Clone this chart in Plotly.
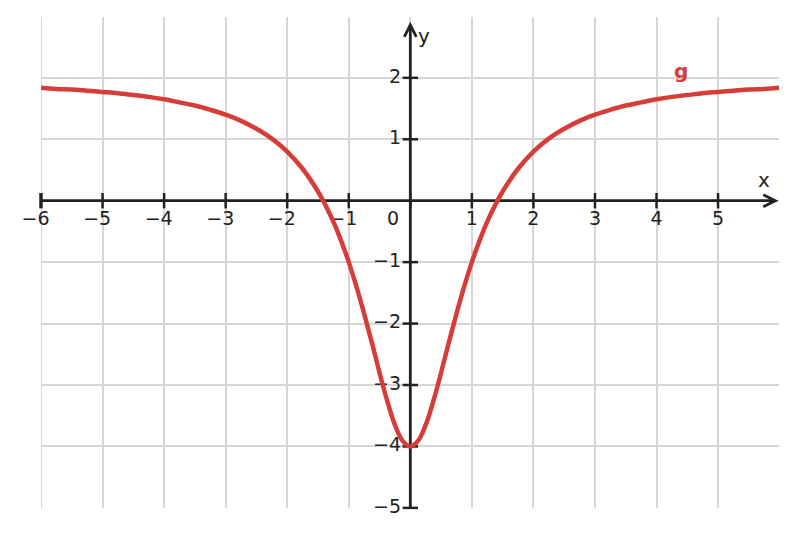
import plotly.graph_objects as go

# curve values
x_vals = [-6, -5.75, -5.5, -5.25, -5, -4.75, -4.5, -4.25, -4, -3.75, -3.5, -3.25, -3,
          -2.75, -2.5, -2.25, -2, -1.75, -1.5, -1.375, -1.25, -1.125, -1, -0.875, -0.75,
          -0.625, -0.5, -0.375, -0.25, -0.125, 0,
          0.125, 0.25, 0.375, 0.5, 0.625, 0.75, 0.875, 1, 1.125, 1.25, 1.375, 1.5, 1.75,
          2, 2.25, 2.5, 2.75, 3, 3.25, 3.5, 3.75, 4, 4.25, 4.5, 4.75, 5, 5.25, 5.5, 5.75, 6]
g_vals = [1.84, 1.82, 1.81, 1.79, 1.77, 1.75, 1.72, 1.69, 1.65, 1.60, 1.55, 1.48, 1.40,
          1.30, 1.17, 1.01, 0.80, 0.52, 0.15, -0.08, -0.34, -0.65, -1.00, -1.40, -1.84,
          -2.31, -2.80, -3.26, -3.65, -3.91, -4.00,
          -3.91, -3.65, -3.26, -2.80, -2.31, -1.84, -1.40, -1.00, -0.65, -0.34, -0.08, 0.15, 0.52,
          0.80, 1.01, 1.17, 1.30, 1.40, 1.48, 1.55, 1.60, 1.65, 1.69, 1.72, 1.75, 1.77, 1.79,
          1.81, 1.82, 1.84]

x_ticks = [-6, -5, -4, -3, -2, -1, 1, 2, 3, 4, 5]
x_tick_labels = ["−6", "−5", "−4", "−3", "−2", "−1", "1", "2", "3", "4", "5"]
y_ticks = [2, 1, -1, -2, -3, -4, -5]
y_tick_labels = ["2", "1", "−1", "−2", "−3", "−4", "−5"]

AX = "#222222"
TXT = "#222222"
RED = "#d63c38"
GRID = "#d6d6d6"
FONT = "DejaVu Sans"
TS = 19

neg = [(t, l) for t, l in zip(x_ticks, x_tick_labels) if t < 0]
pos = [(t, l) for t, l in zip(x_ticks, x_tick_labels) if t > 0]

fig = go.Figure()

# tick labels (drawn under the curve); the digit sits under the tick, the minus hangs left
fig.add_trace(go.Scatter(x=[t + 0.14 for t, _ in neg], y=[-0.32] * len(neg), mode="text",
                         text=[l for _, l in neg], textposition="middle left", cliponaxis=False,
                         textfont=dict(family=FONT, size=TS, color=TXT),
                         hoverinfo="skip", showlegend=False))
fig.add_trace(go.Scatter(x=[t for t, _ in pos], y=[-0.32] * len(pos), mode="text",
                         text=[l for _, l in pos], textposition="middle center", cliponaxis=False,
                         textfont=dict(family=FONT, size=TS, color=TXT),
                         hoverinfo="skip", showlegend=False))
fig.add_trace(go.Scatter(x=[-0.15] * len(y_ticks), y=y_ticks, mode="text",
                         text=y_tick_labels, textposition="middle left", cliponaxis=False,
                         textfont=dict(family=FONT, size=TS, color=TXT),
                         hoverinfo="skip", showlegend=False))
fig.add_trace(go.Scatter(x=[-0.28], y=[-0.32], mode="text", text=["0"],
                         textposition="middle center", cliponaxis=False,
                         textfont=dict(family=FONT, size=TS, color=TXT),
                         hoverinfo="skip", showlegend=False))

# axes lines
fig.add_trace(go.Scatter(x=[-6, 5.93], y=[0, 0], mode="lines", cliponaxis=False,
                         line=dict(color=AX, width=2.8), hoverinfo="skip", showlegend=False))
fig.add_trace(go.Scatter(x=[0, 0], y=[-5, 2.86], mode="lines", cliponaxis=False,
                         line=dict(color=AX, width=2.8), hoverinfo="skip", showlegend=False))

# tick marks
fig.add_trace(go.Scatter(x=x_ticks[1:] + [0], y=[0] * len(x_ticks), mode="markers",
                         cliponaxis=False,
                         marker=dict(symbol="line-ns", size=11, line=dict(color=AX, width=2.5)),
                         hoverinfo="skip", showlegend=False))
fig.add_trace(go.Scatter(x=[-6], y=[0], mode="markers", cliponaxis=False,
                         marker=dict(symbol="line-ns", size=11, line=dict(color=AX, width=3.5)),
                         hoverinfo="skip", showlegend=False))
fig.add_trace(go.Scatter(x=[0] * len(y_ticks), y=y_ticks, mode="markers", cliponaxis=False,
                         marker=dict(symbol="line-ew", size=11, line=dict(color=AX, width=2.5)),
                         hoverinfo="skip", showlegend=False))

# curve g
fig.add_trace(go.Scatter(x=x_vals, y=g_vals, mode="lines", line_shape="spline",
                         line=dict(color=RED, width=4.5), hoverinfo="skip", showlegend=False))

# left edge grid line
fig.add_shape(type="line", xref="x", yref="paper", x0=-6, x1=-6, y0=0, y1=1,
              layer="below", line=dict(color=GRID, width=2))

# arrowheads (open chevrons)
fig.add_shape(type="path", xref="x", yref="y", xsizemode="pixel", ysizemode="pixel",
              xanchor=5.93, yanchor=0, path="M -12 6 L 0 0 L -12 -6",
              line=dict(color=AX, width=2.8))
fig.add_shape(type="path", xref="x", yref="y", xsizemode="pixel", ysizemode="pixel",
              xanchor=0, yanchor=2.86, path="M -6 -12 L 0 0 L 6 -12",
              line=dict(color=AX, width=2.8))

# axis names and curve label
fig.add_annotation(x=5.74, y=0.33, text="x", showarrow=False,
                   font=dict(family=FONT, size=20, color=TXT))
fig.add_annotation(x=0.23, y=2.68, text="y", showarrow=False,
                   font=dict(family=FONT, size=20, color=TXT))
fig.add_annotation(x=4.4, y=2.11, text="<b>g</b>", showarrow=False,
                   font=dict(family=FONT, size=20, color=RED))

fig.update_layout(
    width=789, height=529,
    margin=dict(l=33, r=18, t=9, b=29),
    plot_bgcolor="white", paper_bgcolor="white",
    xaxis=dict(range=[-6, 5.99], dtick=1, tick0=0, showgrid=True, gridcolor=GRID,
               gridwidth=2, zeroline=False, showticklabels=False, showline=False, ticks=""),
    yaxis=dict(range=[-5.002, 2.99], dtick=1, tick0=0, showgrid=True, gridcolor=GRID,
               gridwidth=2, zeroline=False, showticklabels=False, showline=False, ticks=""),
)

fig.write_html("out.html")
